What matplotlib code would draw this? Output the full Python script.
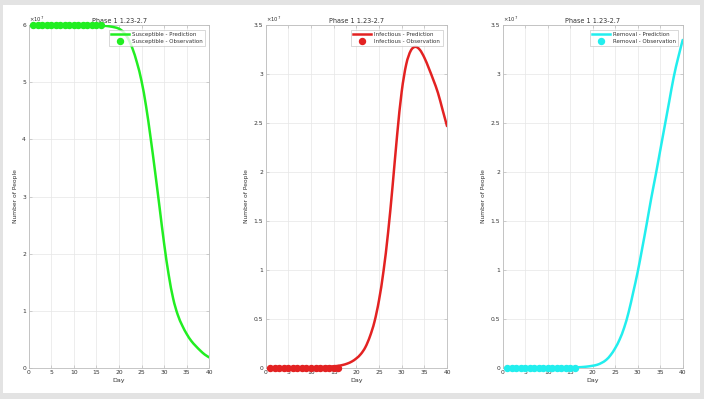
import matplotlib
matplotlib.use("Agg")
import matplotlib.pyplot as plt
from matplotlib.patches import Rectangle, PathPatch
from matplotlib.path import Path
import numpy as np

# ---------------- data (units of 1e7 people) ----------------
days = list(range(1, 41))
susceptible_pred = [6.0, 6.0, 6.0, 6.0, 6.0, 6.0, 6.0, 6.0, 6.0, 6.0,
                    5.999, 5.999, 5.998, 5.997, 5.996, 5.994, 5.99, 5.98, 5.965, 5.94,
                    5.88, 5.77, 5.59, 5.34, 5.02, 4.58, 4.03, 3.43, 2.80, 2.17,
                    1.63, 1.21, 0.93, 0.74, 0.59, 0.47, 0.38, 0.30, 0.23, 0.18]
infectious_pred = [0.0003, 0.0004, 0.0005, 0.0007, 0.0009, 0.0012, 0.0016, 0.002, 0.0027, 0.0035,
                   0.0046, 0.006, 0.008, 0.0105, 0.014, 0.019, 0.028, 0.042, 0.063, 0.095,
                   0.14, 0.21, 0.32, 0.47, 0.69, 0.99, 1.38, 1.86, 2.38, 2.82,
                   3.10, 3.24, 3.28, 3.25, 3.17, 3.06, 2.94, 2.81, 2.64, 2.47]
removal_pred = [0.0, 0.0, 0.0, 0.0, 0.0, 0.0001, 0.0001, 0.0002, 0.0003, 0.0004,
                0.0005, 0.0007, 0.001, 0.0014, 0.002, 0.003, 0.005, 0.008, 0.013, 0.02,
                0.03, 0.05, 0.08, 0.13, 0.20, 0.29, 0.41, 0.57, 0.77, 0.98,
                1.22, 1.47, 1.73, 1.97, 2.22, 2.47, 2.72, 2.97, 3.17, 3.35]
obs_days = list(range(1, 17))
susceptible_obs = [6.0] * 16
infectious_obs = [0.0] * 16
removal_obs = [0.0] * 16

title = "Phase 1 1.23-2.7"
panels = [
    ("Susceptible", susceptible_pred, susceptible_obs, "#22ee22", [0, 6], [0, 1, 2, 3, 4, 5, 6],
     ["0", "1", "2", "3", "4", "5", "6"]),
    ("Infectious", infectious_pred, infectious_obs, "#e32222", [0, 3.5], [0, 0.5, 1, 1.5, 2, 2.5, 3, 3.5],
     ["0", "0.5", "1", "1.5", "2", "2.5", "3", "3.5"]),
    ("Removal", removal_pred, removal_obs, "#22eeee", [0, 3.5], [0, 0.5, 1, 1.5, 2, 2.5, 3, 3.5],
     ["0", "0.5", "1", "1.5", "2", "2.5", "3", "3.5"]),
]
xticks = [0, 5, 10, 15, 20, 25, 30, 35, 40]


def smooth_path(x, y):
    """Catmull-Rom curve through the data points, drawn as cubic Bezier segments."""
    x = np.asarray(x, float)
    y = np.asarray(y, float)
    n = len(x)
    verts = [(x[0], y[0])]
    codes = [Path.MOVETO]
    for i in range(n - 1):
        i0 = max(i - 1, 0)
        i3 = min(i + 2, n - 1)
        c1 = (x[i] + (x[i + 1] - x[i0]) / 6, y[i] + (y[i + 1] - y[i0]) / 6)
        c2 = (x[i + 1] - (x[i3] - x[i]) / 6, y[i + 1] - (y[i3] - y[i]) / 6)
        verts += [c1, c2, (x[i + 1], y[i + 1])]
        codes += [Path.CURVE4] * 3
    return Path(verts, codes)


# ---------------- figure ----------------
W, H = 704, 399
fig = plt.figure(figsize=(W / 100, H / 100), dpi=100)
fig.patch.set_facecolor("#e3e3e3")
fig.patches.append(Rectangle((3 / W, 1 - 393 / H), (700 - 3) / W, (393 - 5) / H,
                             transform=fig.transFigure, facecolor="white",
                             edgecolor="none", zorder=-10))

lefts = [28.7, 265.7, 502.7]
widths = [180.6, 181.3, 180.0]
bottom = 1 - 367.7 / H
height = (367.7 - 25.3) / H
fs = 4.3
spine_c = "#bdbdbd"
text_c = "#333333"

for (name, pred, obs, col, ylim, yt, ytl), l, w in zip(panels, lefts, widths):
    ax = fig.add_axes([l / W, bottom, w / W, height])
    # empty line carries the legend entry; the smooth path draws the curve
    ax.plot([], [], color=col, lw=1.8, label=f"{name} - Prediction")
    ax.add_patch(PathPatch(smooth_path(days, pred), facecolor="none", edgecolor=col,
                           lw=1.8, zorder=3, capstyle="round", joinstyle="round"))
    ax.plot(obs_days, obs, "o", color=col, ms=4.3, mec=col, label=f"{name} - Observation",
            zorder=4, clip_on=False)
    ax.set_xlim(0, 40)
    ax.set_ylim(*ylim)
    ax.set_xticks(xticks)
    ax.set_xticklabels([str(t) for t in xticks])
    ax.set_yticks(yt)
    ax.set_yticklabels(ytl)
    ax.grid(True, color="#e6e6e6", lw=0.5)
    ax.set_axisbelow(True)
    for s in ax.spines.values():
        s.set_color(spine_c)
        s.set_linewidth(0.6)
    ax.tick_params(direction="in", length=2, width=0.5, color=spine_c,
                   labelsize=fs, labelcolor=text_c, pad=2, top=True, right=True)
    ax.set_xlabel("Day", fontsize=fs + 0.3, color=text_c, labelpad=2)
    ax.set_ylabel("Number of People", fontsize=fs, color=text_c, labelpad=3)
    ax.set_title(title, fontsize=fs + 0.4, color=text_c, pad=1.5)
    ax.text(0.0, 1.005, r"$\times10^7$", transform=ax.transAxes, fontsize=fs - 0.5,
            color=text_c, ha="left", va="bottom")
    leg = ax.legend(loc="upper right", fontsize=fs - 0.3, frameon=True, fancybox=False,
                    handlelength=3.2, borderpad=0.4, labelspacing=0.3, handletextpad=0.6,
                    borderaxespad=0.8)
    leg.get_frame().set_edgecolor("#bbbbbb")
    leg.get_frame().set_linewidth(0.5)
    for t in leg.get_texts():
        t.set_color(text_c)

fig.savefig("out.png", dpi=100, facecolor=fig.get_facecolor())
